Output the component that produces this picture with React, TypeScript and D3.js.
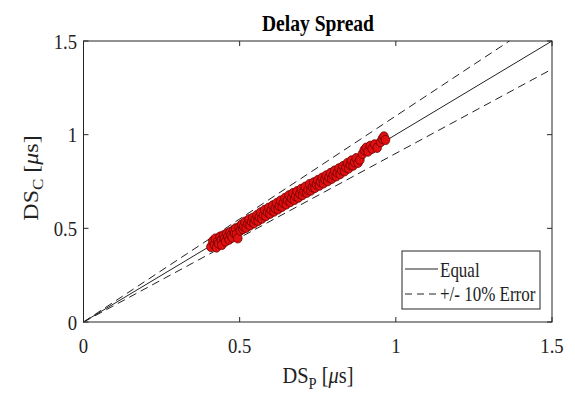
import React from "react";
import * as d3 from "d3";

const title = "Delay Spread";
const xTicks = [0, 0.5, 1, 1.5];
const yTicks = [0, 0.5, 1, 1.5];
const tickLabels = ["0", "0.5", "1", "1.5"];
const legendLabels = ["Equal", "+/- 10% Error"];
const errorFactors = [1.1, 0.9];

// Measured delay spread (DS_P) vs computed delay spread (DS_C), in microseconds
const dsP = [
  0.408, 0.414, 0.419, 0.422, 0.426, 0.43, 0.433, 0.437, 0.441, 0.443, 0.448, 0.451, 0.455, 0.458,
  0.462, 0.466, 0.469, 0.472, 0.476, 0.48, 0.484, 0.487, 0.49, 0.494, 0.498, 0.502, 0.506, 0.51,
  0.513, 0.517, 0.521, 0.526, 0.53, 0.533, 0.538, 0.542, 0.546, 0.55, 0.555, 0.559, 0.563, 0.567,
  0.571, 0.576, 0.58, 0.584, 0.589, 0.593, 0.597, 0.601, 0.606, 0.61, 0.614, 0.618, 0.623, 0.627,
  0.631, 0.636, 0.64, 0.645, 0.649, 0.653, 0.658, 0.662, 0.666, 0.671, 0.675, 0.679, 0.684, 0.688,
  0.693, 0.697, 0.701, 0.706, 0.71, 0.715, 0.719, 0.724, 0.728, 0.733, 0.737, 0.741, 0.746, 0.75,
  0.755, 0.759, 0.764, 0.768, 0.773, 0.777, 0.782, 0.786, 0.791, 0.795, 0.8, 0.804, 0.809, 0.813,
  0.818, 0.822, 0.827, 0.831, 0.836, 0.84, 0.845, 0.849, 0.854, 0.858, 0.863, 0.868, 0.873, 0.879,
  0.885, 0.893, 0.899, 0.905, 0.911, 0.918, 0.924, 0.932, 0.94, 0.951, 0.957, 0.962, 0.967,
];
const dsC = [
  0.401, 0.432, 0.412, 0.445, 0.398, 0.43, 0.418, 0.455, 0.437, 0.412, 0.462, 0.443, 0.43, 0.472,
  0.455, 0.44, 0.48, 0.462, 0.451, 0.49, 0.473, 0.5, 0.468, 0.447, 0.505, 0.488, 0.52, 0.496,
  0.51, 0.535, 0.503, 0.524, 0.548, 0.516, 0.535, 0.556, 0.527, 0.546, 0.57, 0.54, 0.56, 0.585,
  0.552, 0.571, 0.598, 0.566, 0.586, 0.61, 0.578, 0.598, 0.622, 0.59, 0.607, 0.634, 0.602, 0.62,
  0.648, 0.615, 0.636, 0.662, 0.628, 0.65, 0.676, 0.641, 0.66, 0.688, 0.652, 0.672, 0.698, 0.664,
  0.684, 0.71, 0.678, 0.697, 0.722, 0.69, 0.706, 0.736, 0.702, 0.72, 0.745, 0.716, 0.735, 0.757,
  0.728, 0.748, 0.77, 0.74, 0.761, 0.782, 0.752, 0.772, 0.795, 0.765, 0.784, 0.808, 0.778, 0.797,
  0.82, 0.79, 0.81, 0.832, 0.805, 0.826, 0.848, 0.82, 0.84, 0.862, 0.835, 0.853, 0.874, 0.85,
  0.866, 0.897, 0.918, 0.93, 0.91, 0.94, 0.925, 0.948, 0.93, 0.96, 0.978, 0.99, 0.972,
];

const FONT = "'Liberation Serif', 'Times New Roman', serif";
const SX = 0.85;
const AX = "#262626";

export default function App() {
  const x = d3.scaleLinear().domain([0, 1.5]).range([83.5, 552]);
  const y = d3.scaleLinear().domain([0, 1.5]).range([322, 41]);
  const [x0, x1] = x.range();
  const [y0, y1] = y.range();
  const tickLen = 5;
  const line = d3
    .line<[number, number]>()
    .x((d) => x(d[0]))
    .y((d) => y(d[1]));
  const equalPts: [number, number][] = [
    [0, 0],
    [1.5, 1.5],
  ];
  const errLines = errorFactors.map((f) => {
    const xe = Math.min(1.5, 1.5 / f);
    return [
      [0, 0],
      [xe, xe * f],
    ] as [number, number][];
  });
  const pts = dsP.map((v, i) => [v, dsC[i]] as [number, number]);

  return (
    <svg width={575} height={399} style={{ display: "block", position: "absolute", left: 0, top: 0 }}>
      <rect width={575} height={399} fill="#fff" />
      {/* reference lines */}
      <path d={line(equalPts) || ""} stroke="#222" strokeWidth={1} fill="none" />
      {errLines.map((l, i) => (
        <path key={i} d={line(l) || ""} stroke="#222" strokeWidth={1} strokeDasharray="8,5" fill="none" />
      ))}
      {/* data */}
      {pts.map((p, i) => (
        <ellipse
          key={i}
          cx={x(p[0])}
          cy={y(p[1])}
          rx={4.3}
          ry={4.7}
          fill="#e01010"
          stroke="#6a0000"
          strokeWidth={0.8}
        />
      ))}
      {/* axes box */}
      <rect x={x0} y={y1} width={x1 - x0} height={y0 - y1} fill="none" stroke={AX} strokeWidth={1} />
      {xTicks.map((t, i) => (
        <g key={"xt" + i}>
          <line x1={x(t)} x2={x(t)} y1={y0} y2={y0 - tickLen} stroke={AX} />
          <line x1={x(t)} x2={x(t)} y1={y1} y2={y1 + tickLen} stroke={AX} />
          <text
            transform={`translate(${x(t)},353) scale(${SX},1)`}
            textAnchor="middle"
            fontFamily={FONT}
            fontSize={22}
            fill="#222"
          >
            {tickLabels[i]}
          </text>
        </g>
      ))}
      {yTicks.map((t, i) => (
        <g key={"yt" + i}>
          <line x1={x0} x2={x0 + tickLen} y1={y(t)} y2={y(t)} stroke={AX} />
          <line x1={x1} x2={x1 - tickLen} y1={y(t)} y2={y(t)} stroke={AX} />
          <text
            transform={`translate(77,${y(t) + 7.5}) scale(${SX},1)`}
            textAnchor="end"
            fontFamily={FONT}
            fontSize={22}
            fill="#222"
          >
            {tickLabels[i]}
          </text>
        </g>
      ))}
      {/* title */}
      <text
        transform={`translate(318,31) scale(${SX},1)`}
        textAnchor="middle"
        fontFamily={FONT}
        fontWeight="bold"
        fontSize={23}
        fill="#000"
      >
        {title}
      </text>
      {/* x label */}
      <text
        transform={`translate(318,383) scale(${SX},1)`}
        textAnchor="middle"
        fontFamily={FONT}
        fontSize={24}
        fill="#222"
      >
        DS
        <tspan fontSize={17} dy={6}>P</tspan>
        <tspan dy={-6}> [</tspan>
        <tspan fontStyle="italic">μ</tspan>s]
      </text>
      {/* y label */}
      <text
        transform={`translate(38,178) scale(${SX},1) rotate(-90)`}
        textAnchor="middle"
        fontFamily={FONT}
        fontSize={24}
        fill="#222"
      >
        DS
        <tspan fontSize={17} dy={6}>C</tspan>
        <tspan dy={-6}> [</tspan>
        <tspan fontStyle="italic">μ</tspan>s]
      </text>
      {/* legend */}
      <g>
        <rect x={402} y={251} width={138} height={58} fill="#fff" stroke={AX} strokeWidth={1} />
        <line x1={405} x2={438} y1={269} y2={269} stroke="#222" />
        <text transform={`translate(440,277) scale(${SX},1)`} fontFamily={FONT} fontSize={20} fill="#222">
          {legendLabels[0]}
        </text>
        <line x1={405} x2={438} y1={294} y2={294} stroke="#222" strokeDasharray="7,5" />
        <text transform={`translate(440,301) scale(${SX},1)`} fontFamily={FONT} fontSize={20} fill="#222">
          {legendLabels[1]}
        </text>
      </g>
    </svg>
  );
}
